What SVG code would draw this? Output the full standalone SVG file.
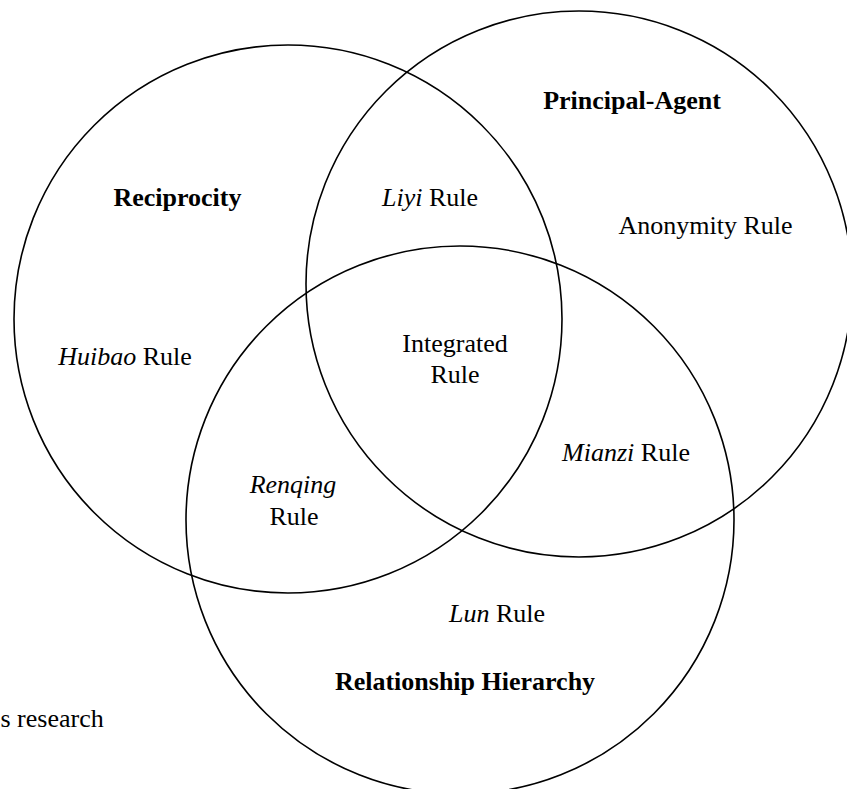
<svg xmlns="http://www.w3.org/2000/svg" width="847" height="789" viewBox="0 0 847 789">
<style>
.c{fill:none;stroke:#000;stroke-width:1.6}
text{font-family:"Liberation Serif","Times New Roman",serif;font-size:26px;fill:#000;text-anchor:middle}
.b{font-weight:bold}
.i{font-style:italic}
</style>
<rect width="847" height="789" fill="#fff"/>
<g id="connectors"></g>
<g id="reciprocity">
<circle class="c" cx="288" cy="319" r="274"/>
<text class="b" x="177.5" y="206">Reciprocity</text>
</g>
<g id="principal-agent">
<circle class="c" cx="579" cy="284" r="273"/>
<text class="b" x="632" y="109">Principal-Agent</text>
</g>
<g id="relationship-hierarchy">
<circle class="c" cx="460" cy="520" r="274"/>
<text class="b" x="465" y="690">Relationship Hierarchy</text>
</g>
<g id="liyi"><text x="430" y="206"><tspan class="i">Liyi</tspan> Rule</text></g>
<g id="anonymity"><text x="705.5" y="234">Anonymity Rule</text></g>
<g id="huibao"><text x="125" y="365"><tspan class="i">Huibao</tspan> Rule</text></g>
<g id="integrated"><text x="455" y="352">Integrated</text><text x="455" y="383">Rule</text></g>
<g id="mianzi"><text x="626" y="461"><tspan class="i">Mianzi</tspan> Rule</text></g>
<g id="renqing"><text class="i" x="293" y="493">Renqing</text><text x="294" y="525">Rule</text></g>
<g id="lun"><text x="497" y="622"><tspan class="i">Lun</tspan> Rule</text></g>
<g id="caption"><text x="0.5" y="727" style="text-anchor:start">s research</text></g>
</svg>
